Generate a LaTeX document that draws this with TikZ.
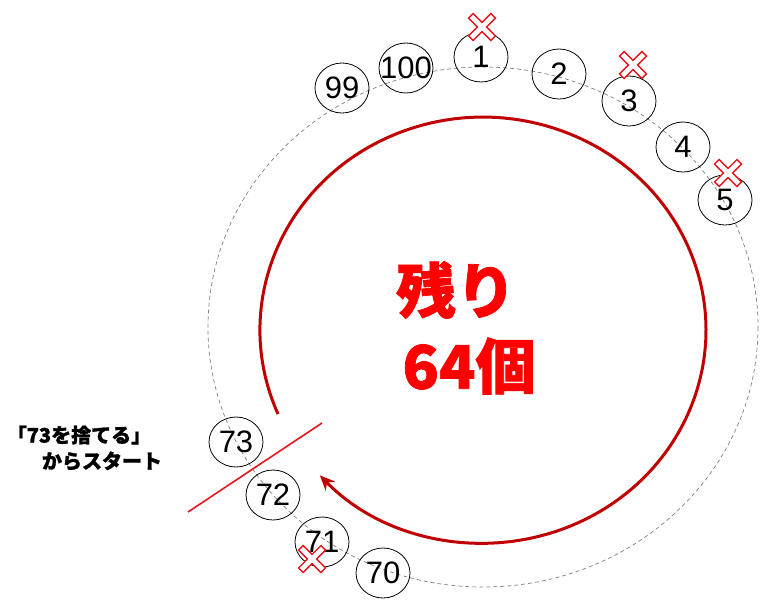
\documentclass[tikz,border=0pt]{standalone}
\usepackage{fontspec}
\setmainfont{Liberation Sans}
\newfontfamily\jp[BoldFeatures={FakeBold=1.2}]{Noto Sans CJK JP}
\usetikzlibrary{shapes.geometric,arrows.meta}
\definecolor{darkred}{HTML}{C00000}
\definecolor{brightred}{HTML}{E8141C}
\definecolor{bigred}{HTML}{FF0000}
\tikzset{
  num/.style={ellipse, draw=black, line width=0.8pt, minimum width=54pt, minimum height=50pt,
    inner sep=0pt, font=\fontsize{31}{31}\selectfont},
  ring/.style={gray, line width=0.7pt, dash pattern=on 4pt off 3pt},
  bigtext/.style={text=bigred, font=\jp\bfseries\fontsize{60}{60}\selectfont, inner sep=0pt},
  note/.style={font=\jp\bfseries\fontsize{20}{20}\selectfont, inner sep=0pt},
  arcline/.style={darkred, line width=3pt, -{Stealth[length=15pt,width=13pt]}},
  cutline/.style={brightred, line width=1.6pt},
  xmark/.pic={
    \draw[brightred, line width=3pt, rotate=45] (-15,-2.4) rectangle (15,2.4);
    \draw[brightred, line width=3pt, rotate=-45] (-15,-2.4) rectangle (15,2.4);
    \fill[white, rotate=45] (-15,-2.4) rectangle (15,2.4);
    \fill[white, rotate=-45] (-15,-2.4) rectangle (15,2.4);
  }
}
\begin{document}
\begin{tikzpicture}[x=1pt,y=-1pt]
\useasboundingbox (0,0) rectangle (784,614);
% dashed ring
\draw[ring] (483,327) ellipse [x radius=275, y radius=260];
% red arc with arrow
\coordinate (arcstart) at (278,414);
\draw[arcline] (arcstart) arc[start angle=156.8, end angle=497, x radius=223, y radius=213];
% numbered nodes
\node[num] (n99) at (342,88) {\makebox[0pt]{99}};
\node[num] (n100) at (406,68) {\makebox[0pt]{100}};
\node[num] (n1) at (481,57) {\makebox[0pt]{1}};
\node[num] (n2) at (559,74) {\makebox[0pt]{2}};
\node[num] (n3) at (629,101) {\makebox[0pt]{3}};
\node[num] (n4) at (683,147) {\makebox[0pt]{4}};
\node[num] (n5) at (725,200) {\makebox[0pt]{5}};
\node[num] (n73) at (236,442) {\makebox[0pt]{73}};
\node[num] (n72) at (273,495) {\makebox[0pt]{72}};
\node[num] (n71) at (322,542) {\makebox[0pt]{71}};
\node[num] (n70) at (383,573) {\makebox[0pt]{70}};
% crosses
\pic at (482,27) {xmark};
\pic at (633,65) {xmark};
\pic at (728,173) {xmark};
\pic at (312,559) {xmark};
% start line
\coordinate (la) at (188,512);
\coordinate (lb) at (322,423);
\draw[cutline] (la) -- (lb);
% texts
\node[bigtext] (t1) at (456,290) {残り};
\node[bigtext] (t2) at (469,366) {64個};
\node[note] (l1) at (79,435) {「73を捨てる」};
\node[note] (l2) at (102,461) {からスタート};
\end{tikzpicture}
\end{document}
